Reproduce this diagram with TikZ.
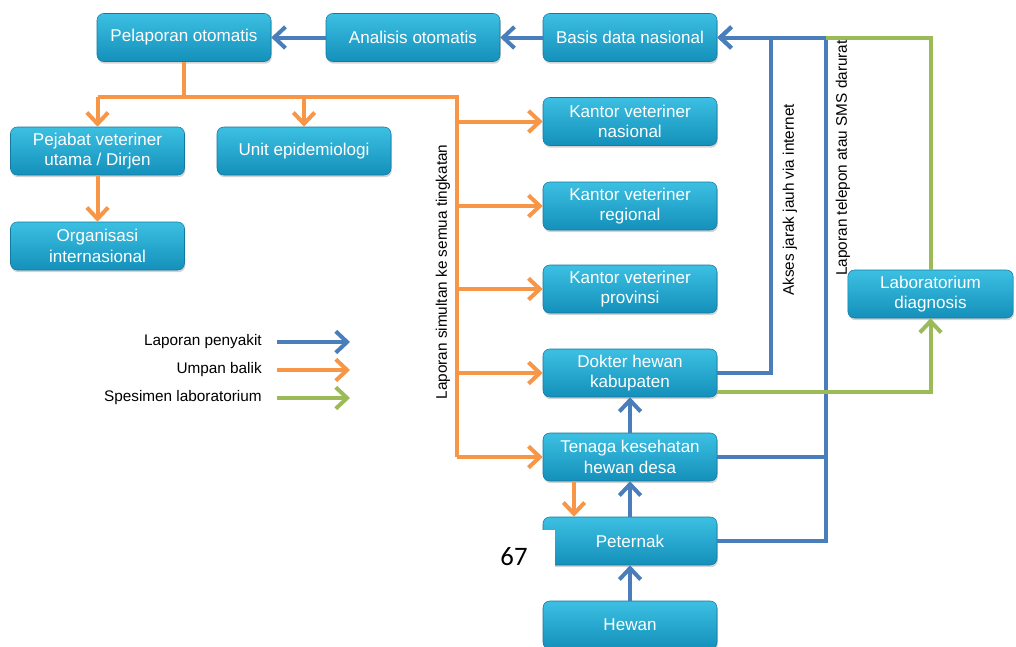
\documentclass[tikz,border=0pt]{standalone}
\usepackage{fontspec}
\setmainfont{Liberation Sans}
\newfontfamily\pagenumfont{Carlito}
\usetikzlibrary{arrows.meta,shadows,calc}
\definecolor{lblue}{RGB}{74,126,187}
\definecolor{lorange}{RGB}{247,150,70}
\definecolor{lgreen}{RGB}{155,187,89}
\definecolor{boxtop}{RGB}{60,192,226}
\definecolor{boxbot}{RGB}{20,144,186}
\definecolor{boxedge}{RGB}{20,120,160}
\tikzset{
  box/.style={rectangle, rounded corners=5pt, top color=boxtop, bottom color=boxbot,
    draw=boxedge, line width=0.4pt, text=white, align=center,
    minimum width=130.5pt, minimum height=36pt, inner sep=1pt,
    font=\fontsize{12.8}{15.5}\selectfont,
    drop shadow={shadow xshift=0.6pt, shadow yshift=-1.6pt, opacity=0.35}},
  conn/.style={line width=3pt, line join=miter},
  arr/.style={conn, -{Straight Barb[length=8.5pt,width=16pt,line width=3pt]}},
  bl/.style={draw=lblue}, orng/.style={draw=lorange}, grn/.style={draw=lgreen},
  sidelabel/.style={rotate=90, font=\fontsize{11.5}{13}\selectfont, inner sep=0pt},
  legtext/.style={anchor=east, font=\fontsize{11.5}{13}\selectfont, inner sep=0pt}
}
\begin{document}
\begin{tikzpicture}[x=0.75pt,y=-0.75pt]
\useasboundingbox (0,0) rectangle (1016,646);
\clip (0,0) rectangle (1016,646);
% boxes
\node[box] (pel) at (184,37.5) {Pelaporan otomatis};
\node[box] (ana) at (413,37.5) {Analisis otomatis};
\node[box] (bas) at (630,37.5) {Basis data nasional};
\node[box] (pej) at (97.5,151) {Pejabat veteriner\\utama / Dirjen};
\node[box] (uni) at (304,151) {Unit epidemiologi};
\node[box] (org) at (97.5,246) {Organisasi\\internasional};
\node[box] (kvn) at (630,121.5) {Kantor veteriner\\nasional};
\node[box] (kvr) at (630,206) {Kantor veteriner\\regional};
\node[box] (kvp) at (630,289) {Kantor veteriner\\provinsi};
\node[box] (dok) at (630,373) {Dokter hewan\\kabupaten};
\node[box] (ten) at (630,457) {Tenaga kesehatan\\hewan desa};
\node[box] (pet) at (630,541) {Peternak};
\node[box] (hew) at (630,625) {Hewan};
\node[box, minimum width=124pt] (lab) at (930.5,294) {Laboratorium\\diagnosis};
% coordinates
\coordinate (xa) at (771,0);
\coordinate (xb) at (826,0);
\coordinate (ob) at (0,97);
\coordinate (xo) at (457,0);
\coordinate (xt) at (574,0);
% blue report arrows
\draw[arr,bl] (ana) -- (pel);
\draw[arr,bl] (bas) -- (ana);
\draw[arr,bl] (hew) -- (pet);
\draw[arr,bl] (pet) -- (ten);
\draw[arr,bl] (ten) -- (dok);
\draw[conn,bl] (ten.east) -- (xb |- ten.east);
\draw[arr,bl] (pet.east) -| (xb |- bas.east) -- (bas.east);
\draw[arr,bl] (dok.east) -| (xa |- bas.east) -- (bas.east);
% green specimen
\draw[conn,grn] (lab.north) |- (xb |- bas.east);
\draw[arr,grn] ([yshift=-14.25pt]dok.east) -| (lab.south);
% orange feedback
\draw[conn,orng] (pel.south) -- (pel.south |- ob);
\draw[conn,orng] (pej.north |- ob) -- (xo |- ob) -- (xo |- ten.west);
\draw[arr,orng] (pej.north |- ob) -- (pej.north);
\draw[arr,orng] (uni.north |- ob) -- (uni.north);
\draw[arr,orng] (pej) -- (org);
\draw[arr,orng] (xo |- kvn.west) -- (kvn.west);
\draw[arr,orng] (xo |- kvr.west) -- (kvr.west);
\draw[arr,orng] (xo |- kvp.west) -- (kvp.west);
\draw[arr,orng] (xo |- dok.west) -- (dok.west);
\draw[arr,orng] (xo |- ten.west) -- (ten.west);
\draw[arr,orng] (xt |- ten.south) -- (xt |- pet.north);
% side labels
\node[sidelabel] (lsim) at (443,272) {Laporan simultan ke semua tingkatan};
\node[sidelabel] (lint) at (790,200) {Akses jarak jauh via internet};
\node[sidelabel] (ltel) at (843,158) {Laporan telepon atau SMS darurat};
% legend
\node[legtext] (lg1) at (262,342) {Laporan penyakit};
\node[legtext] (lg2) at (262,370) {Umpan balik};
\node[legtext] (lg3) at (262,398) {Spesimen laboratorium};
\coordinate (la1) at (277,342); \coordinate (lb1) at (350,342);
\coordinate (la2) at (277,370); \coordinate (lb2) at (350,370);
\coordinate (la3) at (277,398); \coordinate (lb3) at (350,398);
\draw[arr,bl] (la1) -- (lb1);
\draw[arr,orng] (la2) -- (lb2);
\draw[arr,grn] (la3) -- (lb3);
% page number patch
\node[fill=white, minimum width=52.5pt, minimum height=29pt, inner sep=0pt] (patch) at (520,549.5) {};
\node[font=\pagenumfont\fontsize{20}{22}\selectfont, inner sep=0pt] (pnum) at (514,557) {67};
\end{tikzpicture}
\end{document}
